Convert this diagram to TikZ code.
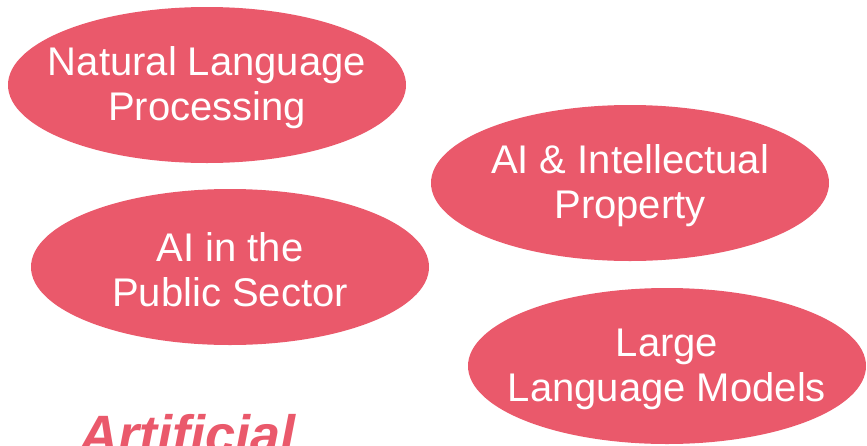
\documentclass[tikz,border=0pt]{standalone}
\usepackage{fontspec}
\setmainfont{Liberation Sans}
\usetikzlibrary{shapes.geometric,positioning}
\definecolor{topicred}{RGB}{234,89,107}

\begin{document}
\begin{tikzpicture}
    [x=1pt,y=-1pt,
     topic/.style={ellipse,fill=topicred,inner sep=0pt,
                   minimum width=398pt,minimum height=156pt},
     topictext/.style={text=white,align=center,inner sep=0pt,yshift=-3pt,
                   font=\fontsize{40}{45}\selectfont},
     title/.style={text=topicred,font=\fontsize{54}{60}\selectfont\bfseries\itshape}]

    \clip (0,0) rectangle (867,445);
    \useasboundingbox (0,0) rectangle (867,445);

    \node[topic] (nlp) at (207,85) {};
    \node[topictext] (nlptext) at (nlp) {Natural Language\\Processing};
    \node[topic] (aiip) at (630,183) {};
    \node[topictext] (aiiptext) at (aiip) {AI \& Intellectual\\Property};
    \node[topic] (pub) at (230,267) {};
    \node[topictext] (pubtext) at (pub) {AI in the\\Public Sector};
    \node[topic] (llm) at (667,366) {};
    \node[topictext] (llmtext) at (llm) {Large\\Language Models};

    \node[title,anchor=base west,inner sep=0pt] (ai) at (79,453) {Artificial};

\end{tikzpicture}
\end{document}
